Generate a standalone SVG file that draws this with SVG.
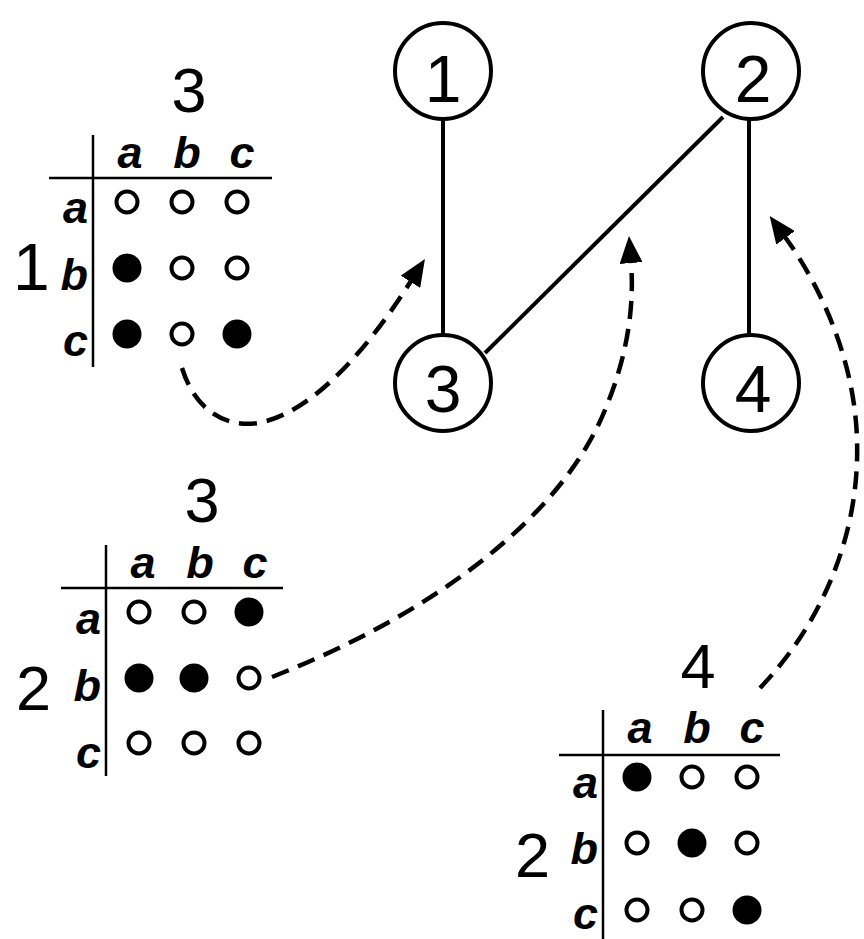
<svg xmlns="http://www.w3.org/2000/svg" width="864" height="939" viewBox="0 0 864 939">
  <style>
    .node circle { fill: #fff; stroke: #000; stroke-width: 4; }
    .num { font-family: "Liberation Sans", Arial, sans-serif; fill: #000; }
    .node text { font-size: 66px; text-anchor: middle; }
    .edge { stroke: #000; stroke-width: 4; fill: none; }
    .link { stroke: #000; stroke-width: 4.5; fill: none; stroke-dasharray: 18 10; marker-end: url(#head); }
    .rule { stroke: #000; stroke-width: 2.5; }
    .lab { font-family: "Liberation Sans", Arial, sans-serif; font-weight: bold; font-style: italic; font-size: 45px; fill: #000; }
    .col { text-anchor: middle; }
    .row { text-anchor: end; }
    .title { font-size: 63px; text-anchor: middle; }
    .side { font-size: 63px; }
    .off { fill: #fff; stroke: #000; stroke-width: 4; }
    .on { fill: #000; }
  </style>
  <defs>
    <marker id="head" markerUnits="userSpaceOnUse" viewBox="0 0 27 23" refX="1" refY="11.5" markerWidth="27" markerHeight="23" orient="auto">
      <path d="M0,0 L27,11.5 L0,23 Z" fill="#000"/>
    </marker>
  </defs>

  <!-- graph edges -->
  <g id="edges">
    <line class="edge" x1="443" y1="119" x2="443" y2="335"/>
    <line class="edge" x1="749" y1="119" x2="749" y2="335"/>
    <line class="edge" x1="723" y1="117" x2="485" y2="353"/>
  </g>

  <!-- graph nodes -->
  <g id="node1" class="node"><circle cx="443" cy="71" r="48"/><text class="num" x="443" y="102">1</text></g>
  <g id="node2" class="node"><circle cx="751" cy="71" r="48"/><text class="num" x="753" y="102">2</text></g>
  <g id="node3" class="node"><circle cx="443" cy="383" r="48"/><text class="num" x="443" y="412">3</text></g>
  <g id="node4" class="node"><circle cx="751" cy="383" r="48"/><text class="num" x="753" y="412">4</text></g>

  <!-- compatibility table for edge 1-3 -->
  <g id="table13" transform="translate(93,178)">
    <line class="rule" x1="0" y1="-43" x2="0" y2="189"/>
    <line class="rule" x1="-44" y1="0" x2="179" y2="0"/>
    <text class="num title" x="96" y="-66">3</text>
    <text class="num side" x="-80" y="112" style="font-size:66px">1</text>
    <text class="lab col" x="37" y="-10">a</text>
    <text class="lab col" x="94" y="-10">b</text>
    <text class="lab col" x="149" y="-10">c</text>
    <text class="lab row" x="-5" y="45">a</text>
    <text class="lab row" x="-5" y="112">b</text>
    <text class="lab row" x="-5" y="178">c</text>
    <circle class="off" cx="34" cy="24" r="10.5"/>
    <circle class="off" cx="89" cy="24" r="10.5"/>
    <circle class="off" cx="144" cy="24" r="10.5"/>
    <circle class="on" cx="34" cy="90" r="14.5"/>
    <circle class="off" cx="89" cy="90" r="10.5"/>
    <circle class="off" cx="144" cy="90" r="10.5"/>
    <circle class="on" cx="34" cy="156" r="14.5"/>
    <circle class="off" cx="89" cy="156" r="10.5"/>
    <circle class="on" cx="144" cy="156" r="14.5"/>
  </g>

  <!-- compatibility table for edge 2-3 -->
  <g id="table23" transform="translate(106,588)">
    <line class="rule" x1="0" y1="-43" x2="0" y2="188"/>
    <line class="rule" x1="-45" y1="0" x2="177" y2="0"/>
    <text class="num title" x="96" y="-66">3</text>
    <text class="num side" x="-90" y="122">2</text>
    <text class="lab col" x="37" y="-10">a</text>
    <text class="lab col" x="94" y="-10">b</text>
    <text class="lab col" x="149" y="-10">c</text>
    <text class="lab row" x="-5" y="46">a</text>
    <text class="lab row" x="-5" y="113">b</text>
    <text class="lab row" x="-5" y="180">c</text>
    <circle class="off" cx="33" cy="24" r="10.5"/>
    <circle class="off" cx="88" cy="24" r="10.5"/>
    <circle class="on" cx="143" cy="24" r="14.5"/>
    <circle class="on" cx="33" cy="90" r="14.5"/>
    <circle class="on" cx="88" cy="90" r="14.5"/>
    <circle class="off" cx="143" cy="90" r="10.5"/>
    <circle class="off" cx="33" cy="155" r="10.5"/>
    <circle class="off" cx="88" cy="155" r="10.5"/>
    <circle class="off" cx="143" cy="155" r="10.5"/>
  </g>

  <!-- compatibility table for edge 2-4 -->
  <g id="table24" transform="translate(603,755)">
    <line class="rule" x1="0" y1="-45" x2="0" y2="190"/>
    <line class="rule" x1="-44" y1="0" x2="177" y2="0"/>
    <text class="num title" x="95" y="-67">4</text>
    <text class="num side" x="-88" y="122">2</text>
    <text class="lab col" x="37" y="-12">a</text>
    <text class="lab col" x="94" y="-12">b</text>
    <text class="lab col" x="149" y="-12">c</text>
    <text class="lab row" x="-5" y="43">a</text>
    <text class="lab row" x="-5" y="109">b</text>
    <text class="lab row" x="-5" y="174">c</text>
    <circle class="on" cx="34" cy="22" r="14.5"/>
    <circle class="off" cx="89" cy="22" r="10.5"/>
    <circle class="off" cx="144" cy="22" r="10.5"/>
    <circle class="off" cx="34" cy="88" r="10.5"/>
    <circle class="on" cx="89" cy="88" r="14.5"/>
    <circle class="off" cx="144" cy="88" r="10.5"/>
    <circle class="off" cx="34" cy="155" r="10.5"/>
    <circle class="off" cx="89" cy="155" r="10.5"/>
    <circle class="on" cx="144" cy="155" r="14.5"/>
  </g>

  <!-- dashed connectors from tables to edges -->
  <g id="connectors">
    <path class="link" d="M182,368 C195,410 225,428 258,423 C320,412 380,330 411,281"/>
    <path class="link" d="M272,677 C430,615 560,520 605,410 C630,350 634,300 631,262"/>
    <path class="link" d="M760,688 C825,620 860,530 857,440 C855,360 820,285 785,237"/>
  </g>
</svg>
